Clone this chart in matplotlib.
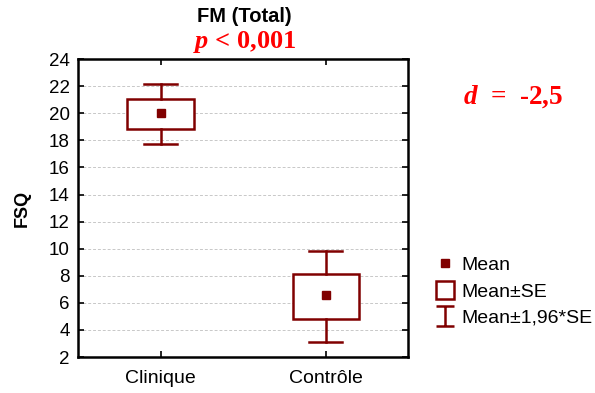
import matplotlib.pyplot as plt
import numpy as np
from matplotlib.patches import Rectangle
from matplotlib.lines import Line2D
from matplotlib.path import Path

plt.rcParams['font.family'] = ['Liberation Sans', 'DejaVu Sans']
plt.rcParams['mathtext.fontset'] = 'custom'
plt.rcParams['mathtext.it'] = 'Liberation Serif:italic:bold'
plt.rcParams['mathtext.rm'] = 'Liberation Serif:bold'

groups = ['Clinique', 'Contrôle']
means = [20.0, 6.6]
se_low = [18.85, 4.8]
se_high = [21.05, 8.12]
ci_low = [17.75, 3.1]
ci_high = [22.15, 9.8]
yticks = list(range(2, 25, 2))

col = '#800000'

fig = plt.figure(figsize=(5.95, 3.93), dpi=100)
ax = fig.add_axes([0.131, 0.0916, 0.555, 0.758])

xs = np.arange(len(groups)) + 0.5
bw = 0.4
cw = 0.2
for x, m, lo, hi, clo, chi in zip(xs, means, se_low, se_high, ci_low, ci_high):
    ax.add_patch(Rectangle((x - bw / 2, lo), bw, hi - lo, facecolor='white',
                           edgecolor=col, lw=1.8, zorder=3))
    ax.plot([x, x], [hi, chi], color=col, lw=1.8, zorder=3)
    ax.plot([x, x], [clo, lo], color=col, lw=1.8, zorder=3)
    ax.plot([x - cw / 2, x + cw / 2], [chi, chi], color=col, lw=1.8, zorder=3)
    ax.plot([x - cw / 2, x + cw / 2], [clo, clo], color=col, lw=1.8, zorder=3)
    ax.plot([x], [m], marker='s', ms=6, color=col, ls='none', zorder=4)

ax.set_xlim(0, 2)
ax.set_ylim(2, 24)
ax.set_xticks(xs)
ax.set_xticklabels(groups, fontsize=14)
ax.set_yticks(yticks)
ax.tick_params(axis='y', labelsize=13.5)
ax.tick_params(direction='in', length=4, width=1.2, top=True, right=True, pad=6)
ax.tick_params(axis='x', pad=9)
ax.grid(axis='y', ls=(0, (3, 2)), color='#c8c8c8', lw=0.7)
ax.set_axisbelow(True)
for s in ax.spines.values():
    s.set_linewidth(1.8)

ax.set_ylabel('FSQ', fontsize=13, fontweight='bold', labelpad=13)
fig.text(0.410, 0.958, 'FM (Total)', ha='center', va='center', fontsize=14.5,
         fontweight='bold')
fig.text(0.411, 0.893, r'$p$ < 0,001', ha='center', va='center', fontsize=19,
         color='red', family='Liberation Serif', fontweight='bold')
fig.text(0.862, 0.755, r'$d$  =  -2,5', ha='center', va='center', fontsize=19.5,
         color='red', family='Liberation Serif', fontweight='bold')

ipath = Path([(-0.86, -1), (0.86, -1), (0, -1), (0, 1), (-0.86, 1), (0.86, 1)],
             [Path.MOVETO, Path.LINETO, Path.MOVETO, Path.LINETO, Path.MOVETO, Path.LINETO])
handles = [
    Line2D([], [], marker='s', ms=6, color=col, ls='none'),
    Line2D([], [], marker='s', ms=13, mfc='white', mec=col, mew=1.8, ls='none'),
    Line2D([], [], marker=ipath, ms=15, color=col, mew=1.8, ls='none'),
]
fig.legend(handles, ['Mean', 'Mean±SE', 'Mean±1,96*SE'], loc='upper left',
           bbox_to_anchor=(0.731, 0.347), frameon=False, fontsize=14,
           handlelength=1.0, handletextpad=0.36, labelspacing=0.45,
           borderaxespad=0, borderpad=0)

fig.savefig('out.png', dpi=100)
